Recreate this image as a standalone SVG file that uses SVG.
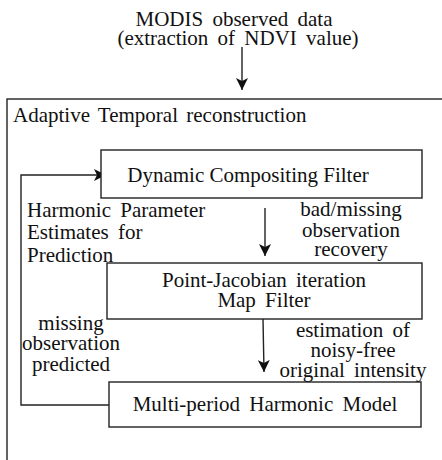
<svg xmlns="http://www.w3.org/2000/svg" width="442" height="460" viewBox="0 0 442 460" font-family="'Liberation Serif', 'Times New Roman', Times, 'DejaVu Serif', serif">
<style>
text{font-family:"Liberation Serif",Tinos,"Times New Roman",Times,"DejaVu Serif",serif;font-size:21px;fill:#111;word-spacing:4px}
.c{text-anchor:middle}
.box{fill:#fff;stroke:#222;stroke-width:1.4}
.ln{fill:none;stroke:#222;stroke-width:1.4}
</style>
<defs>
<marker id="ah" markerWidth="12" markerHeight="12" refX="12" refY="6" orient="auto" markerUnits="userSpaceOnUse">
<path d="M0,0 L12,6 L0,12 L3,6 Z" fill="#111"/>
</marker>
</defs>
<g id="input">
<text class="c" x="234" y="26">MODIS observed data</text>
<text class="c" x="238" y="45">(extraction of NDVI value)</text>
</g>
<g id="container">
<rect class="box" x="7" y="99" width="460" height="400"/>
<text x="13" y="122" style="word-spacing:3px">Adaptive Temporal reconstruction</text>
</g>
<g id="connectors">
<line class="ln" x1="242" y1="47" x2="242" y2="90" marker-end="url(#ah)"/>
<polyline class="ln" points="109,405 21,405 21,175 106,175" marker-end="url(#ah)"/>
<line class="ln" x1="265" y1="208" x2="265" y2="256" marker-end="url(#ah)"/>
<line class="ln" x1="263" y1="319" x2="264" y2="372" marker-end="url(#ah)"/>
</g>
<g id="dcf">
<rect class="box" x="101" y="150" width="321" height="48"/>
<text class="c" x="248" y="182" style="word-spacing:0">Dynamic Compositing Filter</text>
</g>
<g id="pjmf">
<rect class="box" x="107" y="263" width="315" height="56"/>
<text class="c" x="264" y="287">Point-Jacobian iteration</text>
<text class="c" x="264" y="307">Map Filter</text>
</g>
<g id="mphm">
<rect class="box" x="109" y="382" width="312" height="45"/>
<text class="c" x="265" y="411">Multi-period Harmonic Model</text>
</g>
<g id="labels">
<text x="27" y="217">Harmonic Parameter</text>
<text x="27" y="239">Estimates for</text>
<text x="27" y="262">Prediction</text>
<text class="c" x="351" y="216">bad/missing</text>
<text class="c" x="351" y="237">observation</text>
<text class="c" x="351" y="256">recovery</text>
<text class="c" x="71" y="330">missing</text>
<text class="c" x="71" y="350">observation</text>
<text class="c" x="71" y="371">predicted</text>
<text class="c" x="353" y="337">estimation of</text>
<text class="c" x="353" y="357">noisy-free</text>
<text class="c" x="353" y="377">original intensity</text>
</g>
</svg>
